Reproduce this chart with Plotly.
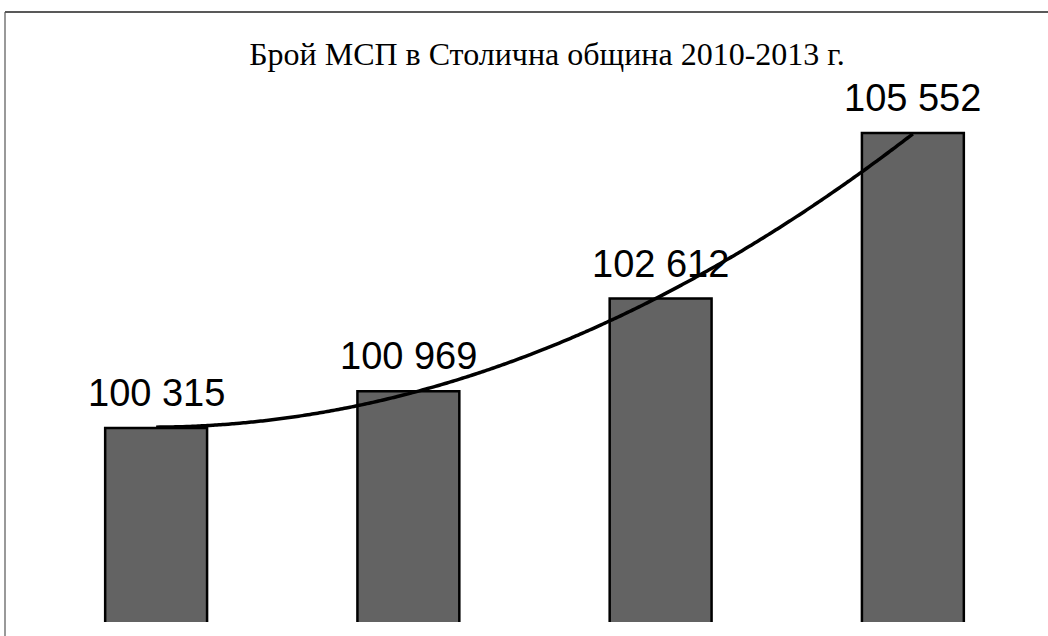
import numpy as np
import plotly.graph_objects as go

years = ["2010", "2011", "2012", "2013"]
values = [100315, 100969, 102612, 105552]
labels = ["100 315", "100 969", "102 612", "105 552"]
title_text = "Брой МСП в Столична община 2010-2013 г."

xi = np.arange(len(values))
coef = np.polyfit(xi, values, 2)
xs = np.linspace(0, len(values) - 1, 200)
ys = np.polyval(coef, xs)

fig = go.Figure()
fig.add_trace(go.Bar(
    x=xi, y=values, width=0.404,
    marker=dict(color="#636363", line=dict(color="#000000", width=2.5)),
    hoverinfo="skip", showlegend=False,
))
fig.add_trace(go.Scatter(
    x=xs, y=ys, mode="lines",
    line=dict(color="#000000", width=3.5, shape="spline"),
    hoverinfo="skip", showlegend=False,
))

for i, (v, t) in enumerate(zip(values, labels)):
    fig.add_annotation(x=i, y=v, text=t, showarrow=False, yanchor="bottom",
                       yshift=12, font=dict(family="Liberation Sans, Arial", size=38, color="#000000"))

W, H = 1048, 636
L, R, T, B = 30, 9, 0, 14
pw, ph = W - L - R, H - T - B

def px_x(p):
    return (p - L) / pw

def px_y(p):
    return (H - B - p) / ph

fig.add_shape(type="line", xref="paper", yref="paper",
              x0=px_x(5), x1=px_x(1048), y0=px_y(12), y1=px_y(12),
              line=dict(color="#222222", width=1.5))
fig.add_shape(type="line", xref="paper", yref="paper",
              x0=px_x(5), x1=px_x(5), y0=px_y(12), y1=px_y(636),
              line=dict(color="#555555", width=1.2))

fig.update_layout(
    width=W, height=H,
    margin=dict(l=L, r=R, t=T, b=B),
    paper_bgcolor="white", plot_bgcolor="white",
    title=dict(text=title_text, x=547 / W, xanchor="center", xref="container",
               y=1 - 54 / H, yanchor="middle", yref="container",
               font=dict(family="Liberation Serif, Times New Roman", size=32, color="#000000")),
    xaxis=dict(range=[-0.5, 3.5], visible=False),
    yaxis=dict(range=[96871, 107913], visible=False),
    bargap=0.6,
)

fig.write_html("out.html", config={"displayModeBar": False},
               post_script="document.body.style.margin='0px';document.body.style.overflow='hidden';")
